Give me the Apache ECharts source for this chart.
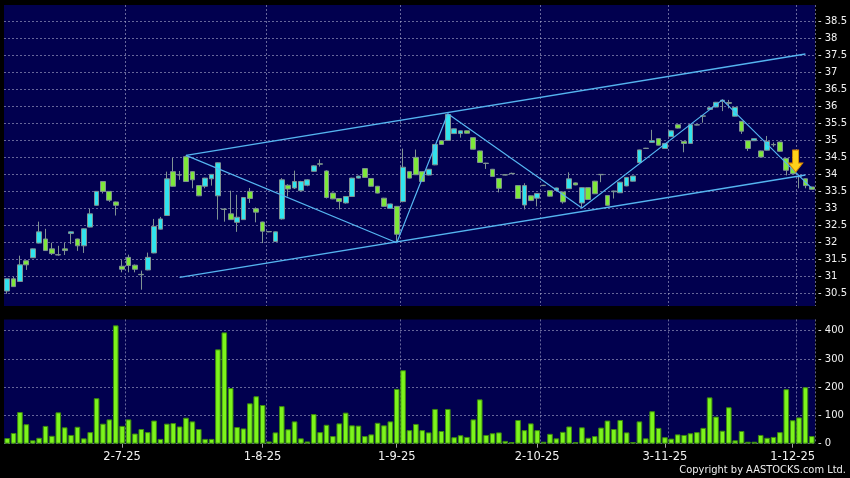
<!DOCTYPE html>
<html><head><meta charset="utf-8">
<script src="https://cdn.jsdelivr.net/npm/echarts@6/dist/echarts.min.js"></script>
<style>html,body{margin:0;padding:0;background:#000;}#c{width:850px;height:478px;}</style>
</head><body><div id="c"></div>
<script>
// ---- data ----
const dates = ['5-6-25','6-6-25','9-6-25','10-6-25','11-6-25','12-6-25','13-6-25','16-6-25','17-6-25','18-6-25',
'19-6-25','20-6-25','23-6-25','24-6-25','25-6-25','26-6-25','27-6-25','30-6-25','2-7-25','3-7-25',
'4-7-25','7-7-25','8-7-25','9-7-25','10-7-25','11-7-25','14-7-25','15-7-25','16-7-25','17-7-25',
'18-7-25','21-7-25','22-7-25','23-7-25','24-7-25','25-7-25','28-7-25','29-7-25','30-7-25','31-7-25',
'1-8-25','4-8-25','5-8-25','6-8-25','7-8-25','8-8-25','11-8-25','12-8-25','13-8-25','14-8-25',
'15-8-25','18-8-25','19-8-25','20-8-25','21-8-25','22-8-25','25-8-25','26-8-25','27-8-25','28-8-25',
'29-8-25','1-9-25','2-9-25','3-9-25','4-9-25','5-9-25','8-9-25','9-9-25','10-9-25','11-9-25',
'12-9-25','15-9-25','16-9-25','17-9-25','18-9-25','19-9-25','22-9-25','23-9-25','24-9-25','25-9-25',
'26-9-25','29-9-25','30-9-25','2-10-25','3-10-25','6-10-25','8-10-25','9-10-25','10-10-25','13-10-25',
'14-10-25','15-10-25','16-10-25','17-10-25','20-10-25','21-10-25','22-10-25','23-10-25','24-10-25','27-10-25',
'28-10-25','30-10-25','31-10-25','3-11-25','4-11-25','5-11-25','6-11-25','7-11-25','10-11-25','11-11-25',
'12-11-25','13-11-25','14-11-25','17-11-25','18-11-25','19-11-25','20-11-25','21-11-25','24-11-25','25-11-25',
'26-11-25','27-11-25','28-11-25','1-12-25','2-12-25','3-12-25','4-12-25'];

const opens = [30.58,30.94,30.86,31.47,31.56,31.99,32.11,31.82,31.65,31.82,
32.27,32.11,31.91,32.46,33.10,33.80,33.51,33.20,31.31,31.57,
31.34,31.07,31.20,31.70,32.40,32.80,34.09,34.00,34.53,34.09,
33.68,33.66,33.88,33.38,32.99,32.85,32.60,32.68,33.51,33.00,
32.61,32.33,32.04,32.70,33.69,33.61,33.53,33.69,34.10,34.32,
34.11,33.46,33.30,33.17,33.36,33.90,34.18,33.89,33.66,33.31,
33.01,33.07,33.21,34.09,34.51,34.09,33.99,34.29,35.00,35.01,
35.21,35.21,35.29,35.09,34.70,34.34,34.16,33.89,34.00,34.04,
33.68,33.11,33.38,33.31,33.69,33.53,33.54,33.49,33.59,33.76,
33.17,33.62,33.81,34.01,33.39,33.50,33.47,33.67,33.81,34.36,
34.78,34.95,35.06,34.77,35.12,35.47,34.98,34.92,35.47,35.73,
35.92,35.99,36.16,36.12,35.72,35.57,35.00,35.00,34.70,34.72,
34.89,34.96,34.48,34.25,33.95,33.88,33.64];
const closes = [30.94,30.71,31.35,31.35,31.82,32.32,31.77,31.68,31.64,31.77,
32.32,31.91,32.41,32.85,33.51,33.51,33.25,33.10,31.22,31.33,
31.22,31.06,31.57,32.48,32.70,33.88,33.66,33.99,33.80,33.85,
33.38,33.90,34.01,34.35,32.98,32.68,32.75,33.33,33.30,32.90,
32.34,32.32,32.32,33.85,33.58,33.80,33.80,33.85,34.26,34.31,
33.33,33.29,33.21,33.36,33.90,33.96,33.92,33.66,33.46,33.07,
33.14,32.25,34.22,33.90,34.00,33.80,34.16,34.89,34.89,35.77,
35.35,35.29,35.22,34.75,34.36,34.33,33.95,33.60,33.99,34.03,
33.30,33.68,33.24,33.45,33.68,33.37,33.61,33.20,33.88,33.70,
33.62,33.27,33.44,34.00,33.10,33.52,33.78,33.92,33.96,34.73,
34.77,35.00,34.87,34.92,35.29,35.37,34.92,35.47,35.46,35.72,
35.97,36.13,36.19,36.10,35.98,35.28,34.77,35.06,34.52,34.98,
34.88,34.69,34.13,34.03,33.94,33.68,33.57];
const lows = [30.50,30.70,30.85,31.20,31.55,31.98,31.76,31.64,31.62,31.64,
31.96,31.76,31.70,32.45,33.09,33.45,33.20,32.80,31.13,31.13,
31.13,30.62,31.19,31.69,32.39,32.79,33.65,33.85,33.79,33.60,
33.37,33.60,33.68,32.68,32.62,32.67,32.32,32.67,33.17,32.60,
31.99,32.31,32.03,32.68,33.36,33.58,33.50,33.66,34.09,34.24,
33.30,33.28,32.98,33.15,33.35,33.89,33.91,33.65,33.45,33.06,
33.00,32.00,33.19,33.89,33.99,33.79,33.98,34.28,34.88,35.00,
35.20,35.09,35.21,34.74,34.35,34.17,33.94,33.48,33.98,34.02,
33.29,32.98,33.23,33.07,33.67,33.36,33.53,33.15,33.58,33.69,
33.05,33.26,33.43,33.78,33.09,33.30,33.46,33.66,33.80,34.35,
34.76,34.94,34.86,34.76,35.11,35.36,34.66,34.91,35.45,35.53,
35.91,35.98,35.87,35.95,35.71,35.20,34.70,34.99,34.51,34.71,
34.82,34.68,33.98,34.02,33.60,33.60,33.56];
const highs = [30.95,31.00,31.62,31.48,31.83,32.62,32.41,32.00,31.91,32.00,
32.33,32.12,32.42,33.00,33.52,33.81,33.52,33.21,31.49,31.65,
31.36,31.18,31.71,32.70,32.76,34.09,34.50,34.11,34.56,34.10,
33.69,33.91,34.02,34.36,33.02,33.53,33.41,33.34,33.61,33.04,
32.62,32.34,32.33,33.90,33.72,34.12,33.82,33.87,34.28,34.45,
34.13,33.47,33.31,33.37,33.91,33.97,34.19,33.90,33.67,33.32,
33.15,33.08,34.77,34.10,34.74,34.10,34.17,34.90,35.01,35.79,
35.36,35.30,35.30,35.10,34.71,34.35,34.17,33.90,34.01,34.06,
33.69,33.75,33.39,33.46,33.70,33.54,33.62,33.50,34.07,33.77,
33.63,33.63,33.82,34.02,33.40,33.53,33.79,33.93,33.97,34.74,
34.79,35.32,35.07,34.93,35.30,35.48,34.99,35.48,35.48,35.74,
35.98,36.14,36.21,36.20,35.99,35.58,35.01,35.07,34.71,35.14,
34.95,34.97,34.49,34.26,33.97,33.89,33.65];
const volumes = [20,38,112,69,12,21,63,28,111,58,
31,60,19,41,161,71,86,419,63,86,
36,52,41,82,17,71,73,61,92,79,
52,17,17,334,394,197,59,54,143,168,
137,8,40,133,51,79,19,8,105,41,
67,27,72,110,65,64,27,33,74,65,
79,194,260,48,70,48,40,123,45,123,
23,30,24,86,157,31,37,40,10,6,
84,48,72,48,7,35,19,42,61,6,
58,21,27,57,82,52,84,40,6,79,
19,115,56,23,18,33,31,37,41,56,
164,96,46,129,12,45,7,7,31,21,
24,41,193,83,93,200,27];

// trend lines: [category index, price]
const upperChannel = [[27.5, 34.57], [125.4, 37.55]];
const lowerChannel = [[27.4, 30.98], [125.4, 33.99]];
const zigzag = [[27.5, 34.57], [60.8, 32.00], [68.7, 35.79], [89.7, 33.02], [111.7, 36.20], [125.7, 33.60]];
const arrowIdx = 123, arrowPrice = 34.40;

// axes
const labelIdx = [18, 40, 61, 83, 103, 123];
const priceMin = 30.5, priceMax = 38.5, priceStep = 0.5;
const volMin = 0, volMax = 400, volStep = 100;

// ---- chart ----
const NAVY = '#01004f';
const GRIDC = 'rgba(170,170,205,0.6)';
const splitIdx = labelIdx.map(i => i + 1);
const ohlc = dates.map((d, i) => [opens[i], closes[i], lows[i], highs[i]]);
const dash = {color: GRIDC, width: 1, type: [2, 2]};
const labelFont = {color: '#f2f2f2', fontFamily: 'DejaVu Sans'};
const L = 4, R = 35;

const chart = echarts.init(document.getElementById('c'), null, {renderer: 'canvas'});
chart.setOption({
  backgroundColor: '#000',
  animation: false,
  grid: [
    {left: L, right: R, top: 5, height: 301, show: true, backgroundColor: NAVY, borderWidth: 0},
    {left: L, right: R, top: 21.7, height: 272, show: false},
    {left: L, right: R, top: 319.4, height: 124.3, show: true, backgroundColor: NAVY, borderWidth: 0},
    {left: L, right: R, top: 330.7, height: 113, show: false}
  ],
  xAxis: [
    {type: 'category', gridIndex: 0, data: dates, boundaryGap: true,
     axisLine: {show: false}, axisTick: {show: false}, axisLabel: {show: false},
     splitLine: {show: true, interval: (i) => splitIdx.includes(i), lineStyle: dash}},
    {type: 'category', gridIndex: 1, data: dates, show: false},
    {type: 'category', gridIndex: 2, data: dates, boundaryGap: true,
     axisLine: {show: false},
     axisTick: {show: true, alignWithLabel: true, length: 4, interval: (i) => labelIdx.includes(i), lineStyle: {color: '#a0a0a0'}},
     axisLabel: Object.assign({interval: (i) => labelIdx.includes(i), fontSize: 11.5, margin: 7}, labelFont),
     splitLine: {show: true, interval: (i) => splitIdx.includes(i), lineStyle: dash}},
    {type: 'category', gridIndex: 3, data: dates, show: false}
  ],
  yAxis: [
    {type: 'value', gridIndex: 0, min: 30.14, max: 38.99, show: false},
    {type: 'value', gridIndex: 1, position: 'right', min: priceMin, max: priceMax, interval: priceStep,
     axisLine: {show: false}, axisTick: {show: false},
     axisLabel: Object.assign({fontSize: 10, margin: 3, formatter: v => '- ' + v}, labelFont),
     splitLine: {show: true, lineStyle: dash}},
    {type: 'value', gridIndex: 2, min: 0, max: 440, show: false},
    {type: 'value', gridIndex: 3, position: 'right', min: volMin, max: volMax, interval: volStep,
     axisLine: {show: false}, axisTick: {show: false},
     axisLabel: Object.assign({fontSize: 10, margin: 3, formatter: v => '- ' + v}, labelFont),
     splitLine: {show: true, lineStyle: dash}}
  ],
  series: [
    {type: 'candlestick', xAxisIndex: 0, yAxisIndex: 0, data: ohlc, barWidth: '82%',
     itemStyle: {color: '#30e4ee', color0: '#7ee83a', borderColor: '#7f9292', borderColor0: '#7f9292', borderWidth: 1},
     markPoint: {
       silent: true,
       data: [{coord: [dates[arrowIdx], arrowPrice],
               symbol: 'path://M4,0 L10,0 L10,13 L14,13 L7,22 L0,13 L4,13 Z',
               symbolSize: [14, 22], symbolOffset: [3, 0],
               itemStyle: {color: '#ffd21a', borderColor: '#e08c00', borderWidth: 1},
               label: {show: false}}]
     }},
    {type: 'line', xAxisIndex: 0, yAxisIndex: 0, data: upperChannel, symbol: 'none', silent: true,
     lineStyle: {color: '#55b4f0', width: 1.4}},
    {type: 'line', xAxisIndex: 0, yAxisIndex: 0, data: lowerChannel, symbol: 'none', silent: true,
     lineStyle: {color: '#55b4f0', width: 1.4}},
    {type: 'line', xAxisIndex: 0, yAxisIndex: 0, data: zigzag, symbol: 'none', silent: true,
     lineStyle: {color: '#55b4f0', width: 1.2}},
    {type: 'bar', xAxisIndex: 2, yAxisIndex: 2, data: volumes, barWidth: '88%',
     itemStyle: {color: '#7cf41c', borderColor: '#3d8a0e', borderWidth: 1}}
  ],
  graphic: [
    {type: 'text', right: 4, top: 465, z: 100,
     style: {text: 'Copyright by AASTOCKS.com Ltd.', fill: '#eeeeee',
             font: '11px "DejaVu Sans Condensed", "Liberation Sans Narrow", "DejaVu Sans", sans-serif'}}
  ]
});
</script></body></html>
